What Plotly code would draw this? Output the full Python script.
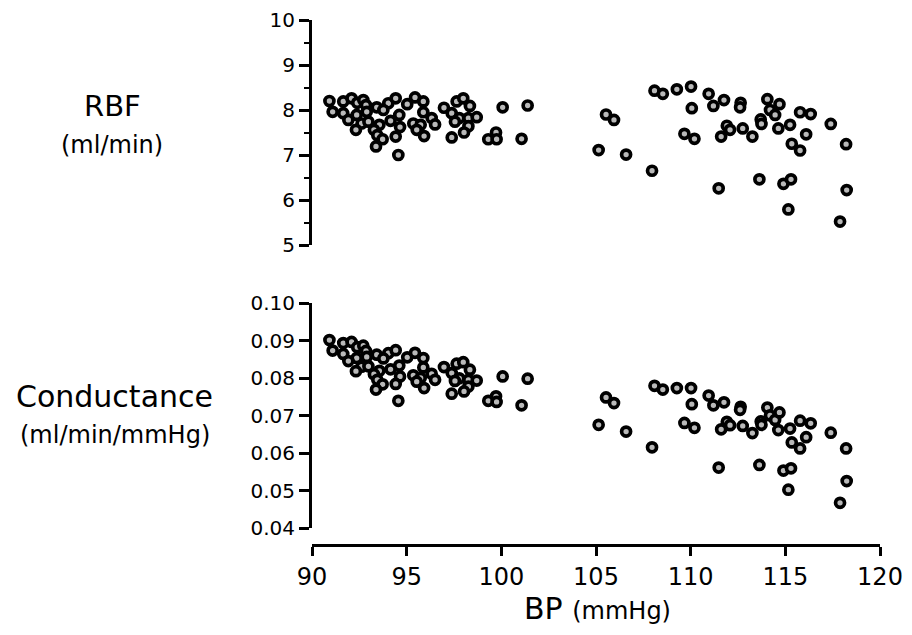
import plotly.graph_objects as go

# Blood pressure (mmHg)
bp = [90.92, 91.65, 92.09, 92.39, 92.71, 92.85, 93.42, 94.03, 94.42, 95.03,
      95.44, 95.88, 96.97, 97.64, 97.99, 98.34, 100.07, 101.39, 91.09, 91.65,
      92.36, 92.89, 93.77, 94.61, 95.88, 97.38, 97.78, 98.26, 98.70, 91.92,
      92.62, 92.98, 93.56, 94.15, 94.65, 95.35, 95.74, 96.32, 96.50, 97.55,
      98.26, 92.32, 93.27, 93.45, 93.73, 94.42, 95.53, 95.92, 97.38, 98.03,
      99.31, 99.72, 99.75, 101.07, 93.38, 94.56,
      105.53, 105.95, 105.14, 106.59, 107.96, 108.09, 108.53, 109.27, 110.02, 110.06,
      109.67, 110.20, 110.95, 111.76, 111.20, 112.64, 112.61, 111.91, 112.08, 111.61,
      112.75, 113.26, 111.48, 114.05, 114.19, 114.46, 114.69, 113.70, 113.74, 114.63,
      115.25, 115.78, 116.34, 116.10, 115.34, 115.78, 117.40, 118.21, 113.63, 114.90,
      115.30, 115.16, 118.24, 117.89]

# Renal blood flow (ml/min)
rbf = [8.20, 8.19, 8.26, 8.16, 8.22, 8.11, 8.06, 8.15, 8.26, 8.13,
       8.28, 8.19, 8.05, 8.19, 8.26, 8.09, 8.06, 8.10, 7.96, 7.93,
       7.89, 7.96, 8.00, 7.89, 7.95, 7.93, 7.82, 7.82, 7.84, 7.78,
       7.70, 7.74, 7.67, 7.76, 7.62, 7.70, 7.67, 7.82, 7.68, 7.74,
       7.64, 7.56, 7.56, 7.44, 7.35, 7.41, 7.56, 7.42, 7.39, 7.50,
       7.35, 7.50, 7.35, 7.36, 7.19, 7.00,
       7.90, 7.78, 7.11, 7.01, 6.65, 8.43, 8.36, 8.46, 8.52, 8.04,
       7.47, 7.36, 8.36, 8.22, 8.09, 8.16, 8.06, 7.65, 7.56, 7.41,
       7.59, 7.41, 6.26, 8.24, 8.00, 7.89, 8.13, 7.79, 7.69, 7.59,
       7.67, 7.95, 7.91, 7.46, 7.25, 7.10, 7.69, 7.24, 6.46, 6.36,
       6.46, 5.79, 6.22, 5.52]

# Conductance (ml/min/mmHg)
conductance = [0.0902, 0.0894, 0.0897, 0.0883, 0.0887, 0.0873, 0.0863, 0.0867, 0.0875, 0.0856,
               0.0868, 0.0854, 0.0830, 0.0839, 0.0843, 0.0823, 0.0805, 0.0799, 0.0874, 0.0865,
               0.0854, 0.0857, 0.0853, 0.0834, 0.0829, 0.0814, 0.0800, 0.0796, 0.0794, 0.0846,
               0.0831, 0.0832, 0.0820, 0.0824, 0.0805, 0.0808, 0.0801, 0.0812, 0.0796, 0.0793,
               0.0778, 0.0819, 0.0811, 0.0796, 0.0784, 0.0785, 0.0791, 0.0774, 0.0759, 0.0765,
               0.0740, 0.0752, 0.0737, 0.0728, 0.0770, 0.0740,
               0.0749, 0.0734, 0.0676, 0.0658, 0.0616, 0.0780, 0.0770, 0.0774, 0.0774, 0.0731,
               0.0681, 0.0668, 0.0754, 0.0736, 0.0728, 0.0724, 0.0716, 0.0684, 0.0675, 0.0664,
               0.0673, 0.0654, 0.0562, 0.0722, 0.0701, 0.0689, 0.0709, 0.0685, 0.0676, 0.0662,
               0.0666, 0.0687, 0.0680, 0.0643, 0.0629, 0.0613, 0.0655, 0.0613, 0.0569, 0.0554,
               0.0560, 0.0503, 0.0526, 0.0468]

x_ticks = [90, 95, 100, 105, 110, 115, 120]
rbf_ticks = [5, 6, 7, 8, 9, 10]
cond_ticks = [0.04, 0.05, 0.06, 0.07, 0.08, 0.09, 0.10]
cond_labels = ["0.04", "0.05", "0.06", "0.07", "0.08", "0.09", "0.10"]

FONT = "DejaVu Sans"
marker = dict(size=9, color="#b9b9b9", line=dict(color="black", width=3.7))

fig = go.Figure()
fig.add_trace(go.Scatter(x=bp, y=rbf, mode="markers", marker=marker,
                         xaxis="x", yaxis="y", showlegend=False))
fig.add_trace(go.Scatter(x=bp, y=conductance, mode="markers", marker=marker,
                         xaxis="x", yaxis="y2", showlegend=False))

axis_common = dict(showline=True, linecolor="black", linewidth=3, ticks="outside",
                   tickcolor="black", tickwidth=3, showgrid=False, zeroline=False,
                   automargin=False)

fig.update_layout(
    width=912, height=635,
    margin=dict(l=304, r=40, t=12, b=98, autoexpand=False),
    paper_bgcolor="white", plot_bgcolor="white",
    font=dict(family=FONT, color="black"),
    xaxis=dict(range=[90, 120], domain=[0, 1], anchor="free", position=0,
               tickvals=x_ticks, ticklen=9, tickfont=dict(size=24, family=FONT),
               **axis_common),
    yaxis=dict(range=[5, 10], domain=[0.5714, 1.0], anchor="x",
               tickvals=rbf_ticks, ticklen=10, tickfont=dict(size=20, family=FONT),
               minor=dict(dtick=0.5, tick0=5, ticks="outside", ticklen=5,
                          tickwidth=2, tickcolor="black"),
               **axis_common),
    yaxis2=dict(range=[0.04, 0.10], domain=[0.0318, 0.4604], anchor="x",
                tickvals=cond_ticks, ticktext=cond_labels, ticklen=10,
                tickfont=dict(size=20, family=FONT), **axis_common),
)

annotations = [
    dict(text="RBF", x=-0.352, y=0.836, size=29),
    dict(text="(ml/min)", x=-0.352, y=0.762, size=24),
    dict(text="Conductance", x=-0.347, y=0.282, size=30),
    dict(text="(ml/min/mmHg)", x=-0.347, y=0.2095, size=24),
    dict(text="BP <span style='font-size:24px'>(mmHg)</span>", x=0.5035, y=-0.12, size=30),
]
for a in annotations:
    fig.add_annotation(text=a["text"], x=a["x"], y=a["y"], xref="paper", yref="paper",
                       xanchor="center", yanchor="middle", showarrow=False,
                       font=dict(size=a["size"], family=FONT, color="black"))

fig.write_html("out.html")
